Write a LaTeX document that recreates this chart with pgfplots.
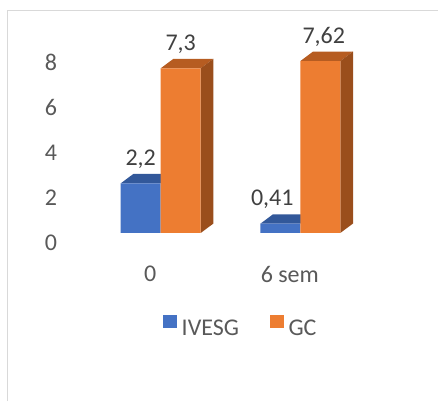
\documentclass[border=0pt]{standalone}
\usepackage{pgfplots}
\pgfplotsset{compat=1.18}
\usepackage{fontspec}
\setmainfont{Carlito}
\definecolor{bfront}{HTML}{4472C4}
\definecolor{btop}{HTML}{32589A}
\definecolor{ofront}{HTML}{ED7D31}
\definecolor{otop}{HTML}{B65C21}
\definecolor{oside}{HTML}{9A4E1C}
\definecolor{tgray}{HTML}{595959}
\definecolor{lgray}{HTML}{404040}
\definecolor{frame}{HTML}{D9D9D9}
\newcommand{\bigf}{\fontsize{24}{28}\selectfont}
\begin{document}
\begin{tikzpicture}
\useasboundingbox (0,0) rectangle (438pt,401pt);
\draw[frame, line width=1.5pt] (7.5pt,0) -- (7.5pt,390.5pt) -- (438pt,390.5pt);
\begin{axis}[
  at={(160.7pt,168pt)}, anchor=origin,
  x={(139.6pt,0)}, y={(0,22.56pt)},
  xmin=-0.72, xmax=1.6, ymin=0, ymax=8.5,
  clip=false,
  axis line style={draw=none}, tick style={draw=none},
  xtick={0,1}, xticklabels={0,6 sem},
  ytick={0,2,4,6,8},
  /pgf/number format/assume math mode=true,
  tick label style={font=\bigf, text=tgray},
  yticklabel style={anchor=east, inner sep=0pt, xshift=-3pt, yshift=-10pt},
  xticklabel style={anchor=north, inner sep=0pt, yshift=-33pt, xshift=-10.5pt},
  legend style={draw=none, fill=none, inner sep=0pt,
    at={(axis description cs:0.3175,-0.4847)}, anchor=west,
    font=\bigf, text=tgray, nodes={inner sep=0pt},
    /tikz/every odd column/.append style={column sep=5pt},
    /tikz/every even column/.append style={column sep=31pt}},
  legend columns=2,
]
% blue 3D tops
\addplot[fill=btop, draw=none, forget plot] coordinates {(-0.2865,2.2) (0,2.2) (0.091,2.62) (-0.1955,2.62)} -- cycle;
\addplot[fill=btop, draw=none, forget plot] coordinates {(0.7135,0.41) (1,0.41) (1.091,0.83) (0.8045,0.83)} -- cycle;
% blue fronts
\addplot[ybar, bar width=0.2865, bar shift=-0.14325, fill=bfront, draw=none,
  legend image code/.code={\fill[bfront] (0pt,0.3pt) rectangle (13.5pt,13.5pt);},
  nodes near coords, point meta=explicit symbolic,
  visualization depends on={\thisrow{sh} \as \lsh},
  every node near coord/.append style={anchor=base, inner sep=0pt, yshift=18pt, xshift=\lsh pt, font=\bigf, text=lgray}]
  table[x=x, y=y, meta=lab] {
x y lab sh
0 2.2 2,2 -20
1 0.41 0,41 -28
};
\addlegendentry{IVESG}
% orange 3D tops and sides
\addplot[fill=otop, draw=none, forget plot] coordinates {(0,7.3) (0.2865,7.3) (0.3775,7.72) (0.091,7.72)} -- cycle;
\addplot[fill=oside, draw=none, forget plot] coordinates {(0.2865,0) (0.3775,0.42) (0.3775,7.72) (0.2865,7.3)} -- cycle;
\addplot[fill=otop, draw=none, forget plot] coordinates {(1,7.62) (1.2865,7.62) (1.3775,8.04) (1.091,8.04)} -- cycle;
\addplot[fill=oside, draw=none, forget plot] coordinates {(1.2865,0) (1.3775,0.42) (1.3775,8.04) (1.2865,7.62)} -- cycle;
% orange fronts
\addplot[ybar, bar width=0.2865, bar shift=0.14325, fill=ofront, draw=none,
  legend image code/.code={\fill[ofront] (0pt,0.3pt) rectangle (13.5pt,13.5pt);},
  nodes near coords, point meta=explicit symbolic,
  visualization depends on={\thisrow{sh} \as \lsh},
  every node near coord/.append style={anchor=base, inner sep=0pt, yshift=18pt, xshift=\lsh pt, font=\bigf, text=lgray}]
  table[x=x, y=y, meta=lab] {
x y lab sh
0 7.3 7,3 20
1 7.62 7,62 23.5
};
\addlegendentry{GC}
\end{axis}
\end{tikzpicture}
\end{document}
